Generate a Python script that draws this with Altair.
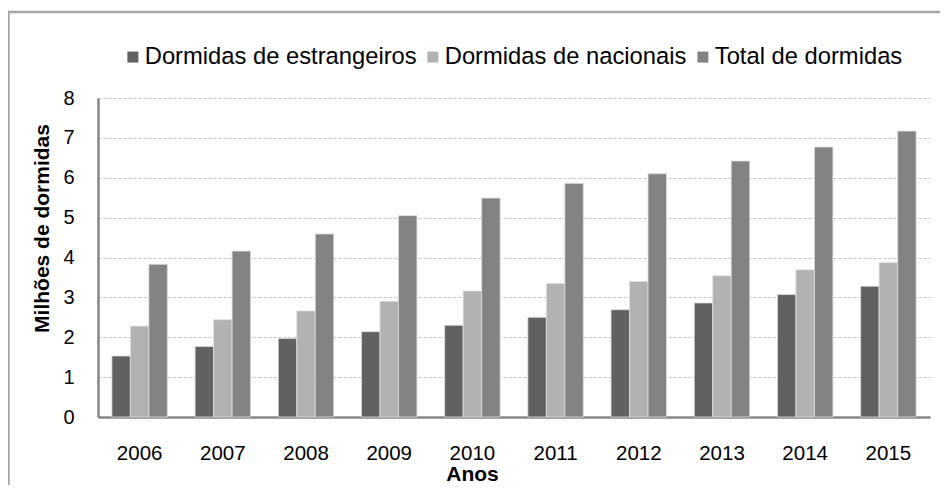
import altair as alt
import pandas as pd

anos = ["2006", "2007", "2008", "2009", "2010", "2011", "2012", "2013", "2014", "2015"]
estrangeiros = [1.53, 1.77, 1.97, 2.14, 2.30, 2.50, 2.69, 2.86, 3.07, 3.28]
nacionais = [2.28, 2.44, 2.66, 2.90, 3.16, 3.35, 3.40, 3.54, 3.69, 3.87]
total = [3.83, 4.16, 4.59, 5.05, 5.49, 5.86, 6.10, 6.42, 6.77, 7.17]

series = ["Dormidas de estrangeiros", "Dormidas de nacionais", "Total de dormidas"]
colors = ["#616161", "#b2b2b2", "#838383"]

rows = []
for i, a in enumerate(anos):
    for s, vals in zip(series, [estrangeiros, nacionais, total]):
        rows.append({"Ano": a, "Serie": s, "Valor": vals[i]})
df = pd.DataFrame(rows)

FONT = "Liberation Sans"

bars = alt.Chart(df).mark_bar(stroke="#dedede", strokeWidth=0.8).encode(
    x=alt.X("Ano:N", sort=anos,
            scale=alt.Scale(paddingInner=0.333, paddingOuter=0.167),
            axis=alt.Axis(title="Anos", labelAngle=0, ticks=False, tickSize=0,
                          labelPadding=36, labelBaseline="middle",
                          labelFontSize=20.5, labelFont=FONT, labelColor="#000000",
                          titleFont=FONT, titleFontSize=21, titleFontWeight="bold",
                          titleColor="#000000", titleX=374, titleY=57,
                          titleAlign="center", titleBaseline="middle",
                          domainColor="#878787", domainWidth=2.5, grid=False)),
    xOffset=alt.XOffset("Serie:N", sort=series,
                        scale=alt.Scale(paddingInner=0, paddingOuter=0)),
    y=alt.Y("Valor:Q", scale=alt.Scale(domain=[0, 8], nice=False),
            axis=alt.Axis(title="Milhões de dormidas", values=[0, 1, 2, 3, 4, 5, 6, 7, 8],
                          ticks=False, tickSize=0, labelPadding=24,
                          labelFontSize=20, labelFont=FONT, labelColor="#000000",
                          titleFont=FONT, titleFontSize=21, titleFontWeight="bold",
                          titleColor="#000000", titleX=-56, titleY=130,
                          titleAngle=-90, titleAlign="center", titleBaseline="middle",
                          domainColor="#878787", domainWidth=2.5,
                          grid=True, gridColor="#c4c4c4", gridDash=[3, 2], gridWidth=1)),
    color=alt.Color("Serie:N", sort=series,
                    scale=alt.Scale(domain=series, range=colors),
                    legend=alt.Legend(title=None, orient="none", direction="horizontal",
                                      legendX=23, legendY=-53, symbolType="square",
                                      symbolSize=121, symbolStrokeWidth=0,
                                      labelFont=FONT, labelFontSize=23.75, labelColor="#000000",
                                      labelOffset=0, columnPadding=4, padding=0,
                                      labelLimit=400)),
)

frame = alt.Chart(pd.DataFrame({"f": [0]})).mark_rect(
    fill=None, stroke="#a6a6a6", strokeWidth=2.5
).encode(
    x=alt.value(-89.5), x2=alt.value(900), y=alt.value(-86), y2=alt.value(500)
)

chart = alt.layer(frame, bars).properties(
    width=832, height=319,
    autosize=alt.AutoSizeParams(type="none"),
    padding={"left": 90, "top": 90, "right": 10, "bottom": 68},
).configure_view(stroke=None)

chart.save("out.html", embed_options={"renderer": "svg", "actions": False})
